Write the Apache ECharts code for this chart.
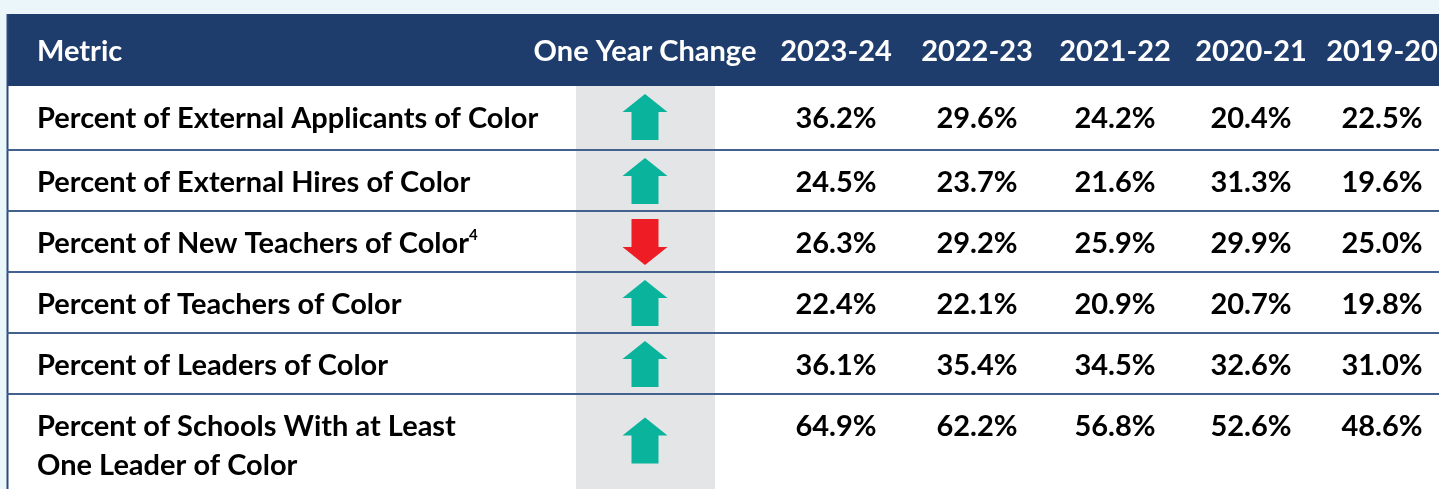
<!DOCTYPE html>
<html lang="en">
<head>
    <meta charset="UTF-8">
    <script src="https://cdn.jsdelivr.net/npm/echarts@6/dist/echarts.min.js"></script>
    <style>
        html, body { margin: 0; padding: 0; background: #eaf6f9; }
        #main { width: 1439px; height: 489px; }
    </style>
</head>
<body>
    <div id="main"></div>
    <script>
        // table data
        var years = ['2023-24', '2022-23', '2021-22', '2020-21', '2019-20'];
        var metrics = [
            'Percent of External Applicants of Color',
            'Percent of External Hires of Color',
            'Percent of New Teachers of Color',
            'Percent of Teachers of Color',
            'Percent of Leaders of Color',
            'Percent of Schools With at Least\nOne Leader of Color'
        ];
        var footnotes = ['', '', '4', '', '', ''];
        var change = ['up', 'up', 'down', 'up', 'up', 'up'];
        var v2023 = [36.2, 24.5, 26.3, 22.4, 36.1, 64.9];
        var v2022 = [29.6, 23.7, 29.2, 22.1, 35.4, 62.2];
        var v2021 = [24.2, 21.6, 25.9, 20.9, 34.5, 56.8];
        var v2020 = [20.4, 31.3, 29.9, 20.7, 32.6, 52.6];
        var v2019 = [22.5, 19.6, 25.0, 19.8, 31.0, 48.6];
        var values = [v2023, v2022, v2021, v2020, v2019];

        // layout
        var W = 1439, H = 489;
        var left = 7, headTop = 14, headBottom = 86;
        var rowTops = [86, 150, 211, 272, 333, 394, 489];
        var textX = 37;
        var chgX0 = 576, chgX1 = 715, chgC = 645;
        var yearX = [836, 977, 1115, 1251, 1382];
        var lineH = 39;
        var dy = 2; // nudge so cap height sits like the source
        var FONT = 'bold 29px Lato, "Open Sans", sans-serif';
        var navy = '#1e3d6c', rule = '#42618f';

        var els = [];
        // body and header backgrounds
        els.push({ type: 'rect', shape: { x: left, y: headTop, width: W - left, height: H - headTop }, style: { fill: '#fff' } });
        els.push({ type: 'rect', shape: { x: chgX0, y: headBottom, width: chgX1 - chgX0, height: H - headBottom }, style: { fill: '#e4e5e7' } });
        els.push({ type: 'rect', shape: { x: left, y: headTop, width: W - left, height: headBottom - headTop }, style: { fill: navy } });
        els.push({ type: 'line', shape: { x1: left + 0.5, y1: headTop, x2: left + 0.5, y2: H }, style: { stroke: '#2c4b7c', lineWidth: 2 } });

        // header
        var headY = (headTop + headBottom) / 2 + dy;
        els.push({ type: 'text', style: { text: 'Metric', x: textX, y: headY, font: FONT, fill: '#fff', align: 'left', verticalAlign: 'middle' } });
        els.push({ type: 'text', style: { text: 'One Year Change', x: chgC, y: headY, font: FONT, fill: '#fff', align: 'center', verticalAlign: 'middle' } });
        years.forEach(function (y, j) {
            els.push({ type: 'text', style: { text: y, x: yearX[j], y: headY, font: FONT, fill: '#fff', align: 'center', verticalAlign: 'middle' } });
        });

        function arrow(cx, cy, up, color) {
            var pts = [[0, -23], [22.5, -5], [13.5, -5], [13.5, 23], [-13.5, 23], [-13.5, -5], [-22.5, -5]];
            return {
                type: 'polygon',
                shape: { points: pts.map(function (p) { return [cx + p[0], cy + (up ? p[1] : -p[1])]; }) },
                style: { fill: color }
            };
        }

        metrics.forEach(function (m, i) {
            var top = rowTops[i];
            var nLines = m.split('\n').length;
            var firstY = top + 31;
            var midY = firstY + (nLines - 1) * lineH / 2;
            if (i > 0) {
                els.push({ type: 'line', shape: { x1: left, y1: top, x2: W, y2: top }, style: { stroke: rule, lineWidth: 2 } });
            }
            var txt = footnotes[i] ? '{m|' + m + '}{s|' + footnotes[i] + '}' : m;
            els.push({
                type: 'text',
                style: {
                    text: txt, x: textX, y: midY + dy, font: FONT, fill: '#000', align: 'left', verticalAlign: 'middle', lineHeight: lineH,
                    rich: {
                        m: { font: FONT, fill: '#000', lineHeight: 32 },
                        s: { font: 'bold 15px Lato, sans-serif', fill: '#000', verticalAlign: 'top', lineHeight: 32 }
                    }
                }
            });
            var up = change[i] === 'up';
            els.push(arrow(chgC, midY - (nLines > 1 ? 4 : 0), up, up ? '#0ab39b' : '#ee1c25'));
            values.forEach(function (col, j) {
                els.push({ type: 'text', style: { text: col[i].toFixed(1) + '%', x: yearX[j], y: firstY + dy, font: FONT, fill: '#000', align: 'center', verticalAlign: 'middle' } });
            });
        });

        var chart = echarts.init(document.getElementById('main'));
        chart.setOption({
            backgroundColor: '#eaf6f9',
            animation: false,
            graphic: { elements: els }
        });
    </script>
</body>
</html>
